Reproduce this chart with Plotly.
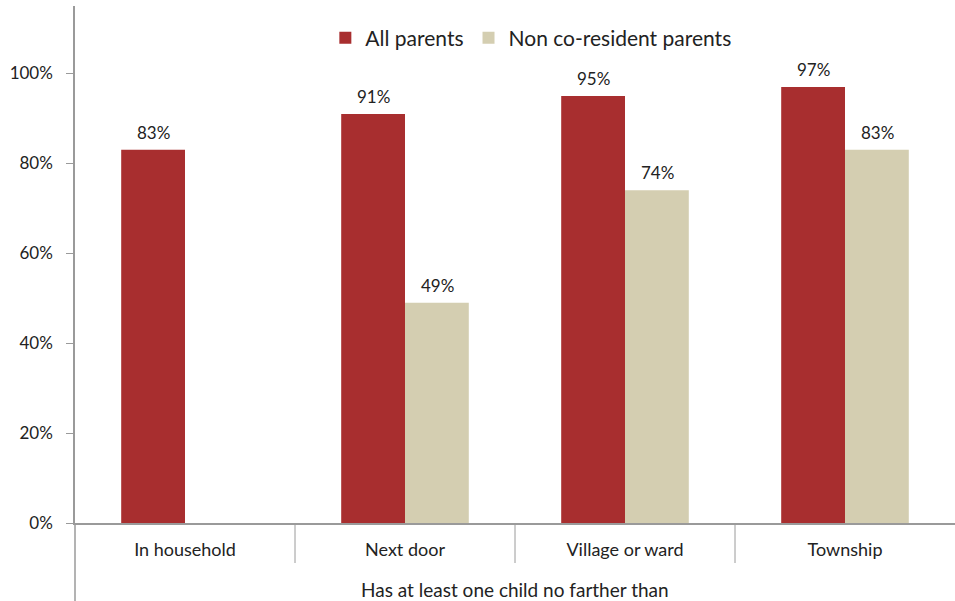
import plotly.graph_objects as go

categories = ["In household", "Next door", "Village or ward", "Township"]
all_parents = [0.83, 0.91, 0.95, 0.97]
non_coresident = [None, 0.49, 0.74, 0.83]
series_names = ["All parents", "Non co-resident parents"]
group_label = "Has at least one child no farther than"
y_ticks = [0, 0.2, 0.4, 0.6, 0.8, 1.0]
y_tick_labels = ["0%", "20%", "40%", "60%", "80%", "100%"]

FONT = "Lato"
TXT = "#222222"
AX = "#9a9a9a"
PLOT_H = 601 - 6 - 78

def pct(v):
    return f"{round(v*100)}%"

fig = go.Figure()
fig.add_trace(go.Bar(
    x=categories, y=all_parents, name=series_names[0],
    marker=dict(color="#A82E2F", line=dict(width=0)),
))
fig.add_trace(go.Bar(
    x=categories, y=non_coresident, name=series_names[1],
    marker=dict(color="#D4CEB1", line=dict(width=0)),
))

annotations = []
for series, shift in [(all_parents, -32), (non_coresident, 32)]:
    for c, v in zip(categories, series):
        if v is None:
            continue
        annotations.append(dict(x=c, y=v, xref="x", yref="y", text=pct(v),
                                showarrow=False, xshift=shift, yshift=5,
                                yanchor="bottom",
                                font=dict(size=17, family=FONT, color=TXT)))
annotations.append(dict(text=group_label, xref="paper", yref="paper", x=0.5,
                        y=-66/PLOT_H, showarrow=False, yanchor="middle",
                        font=dict(size=19, family=FONT, color=TXT)))

shapes = []
for b in [0.5, 1.5, 2.5]:
    shapes.append(dict(type="line", xref="x", yref="paper", x0=b, x1=b,
                       y0=0, y1=-40/PLOT_H, line=dict(color=AX, width=1)))
shapes.append(dict(type="line", xref="paper", yref="paper", x0=0, x1=0,
                   y0=0, y1=-78/PLOT_H, line=dict(color=AX, width=1.5)))

fig.update_layout(
    width=955, height=601,
    margin=dict(l=75, r=0, t=6, b=78),
    paper_bgcolor="white", plot_bgcolor="white",
    barmode="group", bargap=0.42, bargroupgap=0,
    font=dict(family=FONT, color=TXT, size=17),
    showlegend=True,
    legend=dict(orientation="h", x=0.518, xanchor="center", y=0.938, yanchor="middle",
                font=dict(size=21, family=FONT, color=TXT), itemsizing="constant",
                traceorder="normal", bgcolor="rgba(0,0,0,0)"),
    xaxis=dict(showline=True, linecolor=AX, linewidth=1.5, ticks="",
               tickfont=dict(size=18, family=FONT, color=TXT), showgrid=False,
               ticklabelstandoff=10),
    yaxis=dict(range=[0, 1.15], tickvals=y_ticks, ticktext=y_tick_labels,
               showline=True, linecolor=AX, linewidth=1.5, ticks="outside",
               ticklen=7, tickcolor=AX, showgrid=False, zeroline=False,
               tickfont=dict(size=17, family=FONT, color=TXT), ticklabelstandoff=10),
    shapes=shapes,
    annotations=annotations,
)

fig.write_html("out.html", config={"displayModeBar": False},
               post_script="document.body.style.margin='0';document.body.style.overflow='hidden';")
